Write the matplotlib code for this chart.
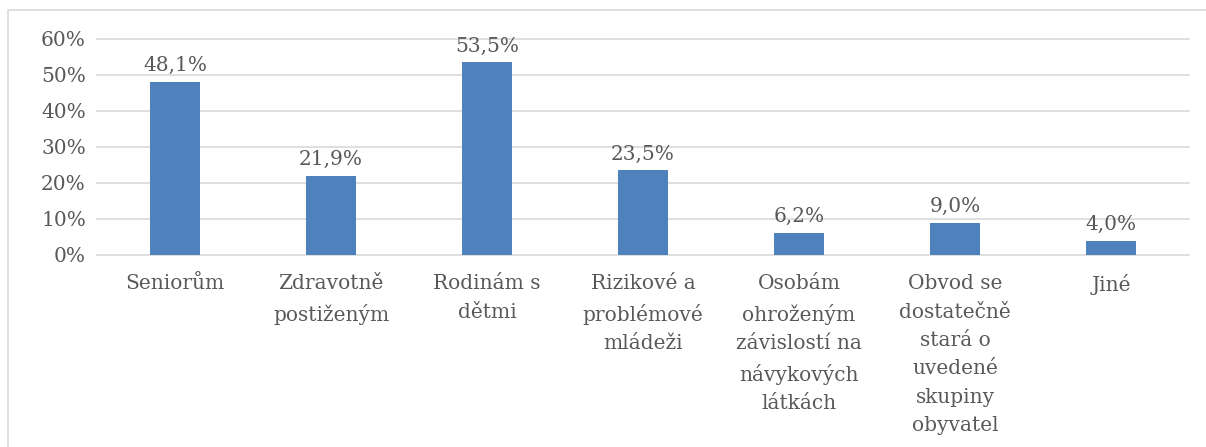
import matplotlib.pyplot as plt
from matplotlib.patches import Rectangle
from matplotlib.ticker import PercentFormatter

categories = ['Seniorům', 'Zdravotně\npostiženým', 'Rodinám s\ndětmi',
              'Rizikové a\nproblémové\nmládeži',
              'Osobám\nohroženým\nzávislostí na\nnávykových\nlátkách',
              'Obvod se\ndostatečně\nstará o\nuvedené\nskupiny\nobyvatel',
              'Jiné']
values = [48.1, 21.9, 53.5, 23.5, 6.2, 9.0, 4.0]
value_labels = ['48,1%', '21,9%', '53,5%', '23,5%', '6,2%', '9,0%', '4,0%']
yticks = [0, 10, 20, 30, 40, 50, 60]

text_color = '#595959'
plt.rcParams['font.family'] = ['DejaVu Serif']

fig = plt.figure(figsize=(12.06, 4.47), dpi=100)
fig.patches.append(Rectangle((8 / 1206, -0.1), 1.2, (447 - 10) / 447 + 0.1,
                             transform=fig.transFigure, fill=False,
                             edgecolor='#d9d9d9', linewidth=1.2))

ax = fig.add_axes([97 / 1206, (447 - 255) / 447, (1189 - 97) / 1206, (255 - 39) / 447])
x = range(len(categories))
bars = ax.bar(x, values, width=50 / 156, color='#4f81bd', zorder=3)

for b, lab in zip(bars, value_labels):
    ax.annotate(lab, (b.get_x() + b.get_width() / 2, b.get_height()),
                xytext=(0, 5), textcoords='offset points', ha='center', va='bottom',
                fontsize=14.5, color=text_color)

ax.set_xlim(-0.5, len(categories) - 0.5)
ax.set_ylim(0, 60)
ax.set_yticks(yticks)
ax.yaxis.set_major_formatter(PercentFormatter(decimals=0))
ax.set_xticks(list(x))
ax.set_xticklabels(categories, linespacing=1.62)
ax.tick_params(axis='both', length=0, labelsize=14.5, labelcolor=text_color)
ax.tick_params(axis='x', pad=14)
ax.tick_params(axis='y', pad=8)
ax.grid(axis='y', color='#d9d9d9', linewidth=1.2, zorder=0)
for gl in ax.get_ygridlines():
    gl.set_clip_on(False)
for s in ax.spines.values():
    s.set_visible(False)

plt.savefig('out.png', dpi=100)
